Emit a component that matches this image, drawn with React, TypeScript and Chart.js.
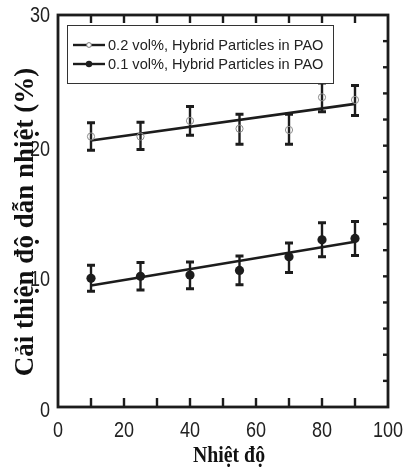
import React, { useEffect, useRef } from 'react';
import { Chart, registerables } from 'chart.js';

Chart.register(...registerables);

// ---- data ----
const temperatures = [10, 25, 40, 55, 70, 80, 90];
const series02 = [20.7, 20.7, 21.9, 21.3, 21.2, 23.7, 23.5];
const err02Low = [19.65, 19.7, 20.8, 20.1, 20.1, 22.6, 22.3];
const err02High = [21.75, 21.8, 23.0, 22.4, 22.4, 24.8, 24.6];
const series01 = [9.85, 10.0, 10.1, 10.45, 11.5, 12.8, 12.9];
const err01Low = [8.85, 8.95, 9.05, 9.35, 10.3, 11.5, 11.6];
const err01High = [10.85, 11.05, 11.1, 11.55, 12.55, 14.1, 14.2];
const fitX = [10, 90];
const fit02 = [20.4, 23.2];
const fit01 = [9.3, 12.65];
const seriesLabels = ['0.2 vol%, Hybrid Particles in PAO', '0.1 vol%, Hybrid Particles in PAO'];
const xTitle = 'Nhiệt độ';
const yTitle = 'Cải thiện độ dẫn nhiệt (%)';
const xRange = [0, 100];
const yRange = [0, 30];
const xLabelStep = 20;
const yLabelStep = 10;

const INK = '#1c1c1c';
const TICK_FONT = '22px "Liberation Sans", Arial, sans-serif';
const TITLE_FAMILY = '"Liberation Serif", "DejaVu Serif", serif';

const errorBarsPlugin = {
  id: 'errorBars',
  beforeDatasetsDraw(chart: any) {
    const { ctx, scales } = chart;
    const xs = scales.x;
    const ys = scales.y;
    const groups = [
      { lo: err02Low, hi: err02High },
      { lo: err01Low, hi: err01High },
    ];
    ctx.save();
    ctx.strokeStyle = INK;
    groups.forEach((g) => {
      temperatures.forEach((t, i) => {
        const px = xs.getPixelForValue(t);
        const y1 = ys.getPixelForValue(g.lo[i]);
        const y2 = ys.getPixelForValue(g.hi[i]);
        ctx.lineWidth = 2.4;
        ctx.beginPath();
        ctx.moveTo(px, y1);
        ctx.lineTo(px, y2);
        ctx.stroke();
        ctx.lineWidth = 3;
        ctx.beginPath();
        ctx.moveTo(px - 4, y1);
        ctx.lineTo(px + 4, y1);
        ctx.moveTo(px - 4, y2);
        ctx.lineTo(px + 4, y2);
        ctx.stroke();
      });
    });
    ctx.restore();
  },
};

const framePlugin = {
  id: 'frameAndLegend',
  afterDraw(chart: any) {
    const { ctx, chartArea, scales } = chart;
    const { left, right, top, bottom } = chartArea;
    ctx.save();
    // inward ticks
    ctx.strokeStyle = INK;
    ctx.lineWidth = 2.4;
    scales.x.ticks.forEach((tk: any) => {
      if (tk.value <= xRange[0] || tk.value >= xRange[1]) return;
      const px = scales.x.getPixelForValue(tk.value);
      ctx.beginPath();
      ctx.moveTo(px, bottom);
      ctx.lineTo(px, bottom - 9);
      ctx.moveTo(px, top);
      ctx.lineTo(px, top + 8);
      ctx.stroke();
    });
    scales.y.ticks.forEach((tk: any) => {
      if (tk.value <= yRange[0] || tk.value >= yRange[1]) return;
      const py = scales.y.getPixelForValue(tk.value);
      ctx.beginPath();
      ctx.moveTo(right, py);
      ctx.lineTo(right - 5, py);
      ctx.stroke();
    });
    // frame
    ctx.lineWidth = 2.8;
    ctx.strokeRect(left, top, right - left, bottom - top);

    // tick labels (narrow numerals)
    ctx.fillStyle = '#222222';
    ctx.font = TICK_FONT;
    ctx.textBaseline = 'alphabetic';
    const sx = 0.82;
    scales.x.ticks.forEach((tk: any) => {
      if (tk.value % xLabelStep !== 0) return;
      const px = scales.x.getPixelForValue(tk.value);
      ctx.save();
      ctx.translate(px, bottom + 30);
      ctx.scale(sx, 1);
      ctx.textAlign = 'center';
      ctx.fillText(String(tk.value), 0, 0);
      ctx.restore();
    });
    scales.y.ticks.forEach((tk: any) => {
      if (tk.value % yLabelStep !== 0) return;
      const py = scales.y.getPixelForValue(tk.value);
      ctx.save();
      ctx.translate(left - 8, py + (tk.value === yRange[1] ? 7 : 10));
      ctx.scale(sx, 1);
      ctx.textAlign = 'right';
      ctx.fillText(String(tk.value), 0, 0);
      ctx.restore();
    });

    // legend box
    const bx = left + 9;
    const by = top + 10;
    const bw = 266;
    const bh = 58;
    ctx.fillStyle = '#ffffff';
    ctx.fillRect(bx, by, bw, bh);
    ctx.lineWidth = 1;
    ctx.strokeStyle = '#333333';
    ctx.strokeRect(bx + 0.5, by + 0.5, bw, bh);
    const rows = [by + 20, by + 39];
    ctx.font = '14.6px "Liberation Sans", Arial, sans-serif';
    ctx.textBaseline = 'middle';
    ctx.textAlign = 'left';
    rows.forEach((ry, i) => {
      ctx.strokeStyle = INK;
      ctx.lineWidth = 2.4;
      ctx.beginPath();
      ctx.moveTo(bx + 6, ry);
      ctx.lineTo(bx + 38, ry);
      ctx.stroke();
      ctx.beginPath();
      if (i === 0) {
        ctx.arc(bx + 22, ry, 2.4, 0, Math.PI * 2);
        ctx.fillStyle = '#ffffff';
        ctx.fill();
        ctx.lineWidth = 1;
        ctx.strokeStyle = '#777777';
        ctx.stroke();
      } else {
        ctx.arc(bx + 22, ry, 3.2, 0, Math.PI * 2);
        ctx.fillStyle = INK;
        ctx.fill();
      }
      ctx.fillStyle = '#222222';
      ctx.fillText(chart.data.datasets[i].label, bx + 41, ry + 1);
    });

    // axis titles
    ctx.fillStyle = '#111111';
    ctx.textAlign = 'center';
    ctx.textBaseline = 'alphabetic';
    ctx.save();
    ctx.translate(229, 462);
    ctx.scale(0.88, 1);
    ctx.font = `bold 22.5px ${TITLE_FAMILY}`;
    ctx.fillText(xTitle, 0, 0);
    ctx.restore();
    ctx.save();
    ctx.translate(33, 222);
    ctx.rotate(-Math.PI / 2);
    ctx.font = `bold 27px ${TITLE_FAMILY}`;
    ctx.fillText(yTitle, 0, 0);
    ctx.restore();
    ctx.restore();
  },
};

export default function App() {
  const canvasRef = useRef<HTMLCanvasElement | null>(null);

  useEffect(() => {
    if (!canvasRef.current) return;
    const toPts = (xs: number[], ys: number[]) => xs.map((x, i) => ({ x, y: ys[i] }));
    const chart = new Chart(canvasRef.current, {
      type: 'scatter',
      data: {
        datasets: [
          {
            label: seriesLabels[0],
            data: toPts(temperatures, series02),
            showLine: false,
            pointStyle: 'circle',
            pointRadius: 3.6,
            pointBorderWidth: 1,
            pointBackgroundColor: 'rgba(255,255,255,0)',
            pointBorderColor: '#8a8a8a',
            order: 1,
          },
          {
            label: seriesLabels[1],
            data: toPts(temperatures, series01),
            showLine: false,
            pointStyle: 'circle',
            pointRadius: 4.6,
            pointBorderWidth: 0,
            pointBackgroundColor: INK,
            pointBorderColor: INK,
            order: 1,
          },
          {
            label: 'fit02',
            data: toPts(fitX, fit02),
            showLine: true,
            pointRadius: 0,
            borderColor: INK,
            borderWidth: 2.6,
            order: 2,
          },
          {
            label: 'fit01',
            data: toPts(fitX, fit01),
            showLine: true,
            pointRadius: 0,
            borderColor: INK,
            borderWidth: 2.6,
            order: 2,
          },
        ],
      },
      options: {
        responsive: false,
        animation: false,
        layout: { padding: { left: 0, right: 18, top: 15, bottom: 0 } },
        plugins: {
          legend: { display: false },
          tooltip: { enabled: false },
        },
        scales: {
          x: {
            type: 'linear',
            min: xRange[0],
            max: xRange[1],
            afterFit: (s: any) => {
              s.height = 62;
            },
            grid: { display: false },
            border: { display: false },
            ticks: { stepSize: 10, autoSkip: false, display: false },
          },
          y: {
            type: 'linear',
            min: yRange[0],
            max: yRange[1],
            afterFit: (s: any) => {
              s.width = 58;
            },
            grid: { display: false },
            border: { display: false },
            ticks: { stepSize: 2, autoSkip: false, display: false },
          },
        },
      },
      plugins: [errorBarsPlugin, framePlugin],
    });
    return () => chart.destroy();
  }, []);

  return (
    <div style={{ position: 'fixed', left: 0, top: 0, width: 406, height: 469, background: '#fff' }}>
      <canvas ref={canvasRef} width={406} height={469} style={{ display: 'block' }} />
    </div>
  );
}
